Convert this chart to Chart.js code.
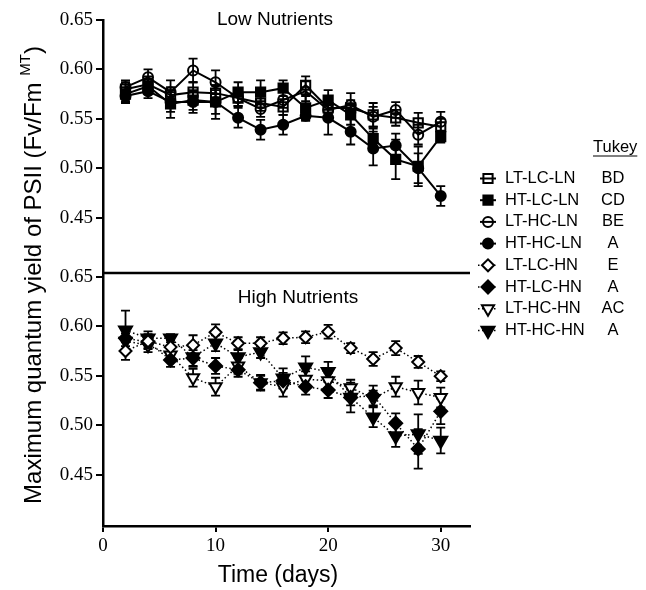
<!DOCTYPE html>
<html>
<head>
<meta charset="utf-8">
<script src="https://cdn.jsdelivr.net/npm/chart.js@4.4.1/dist/chart.umd.min.js"></script>
<style>
html,body{margin:0;padding:0;background:#fff;}
#wrap{position:relative;width:646px;height:590px;}
</style>
</head>
<body>
<div id="wrap"><canvas id="c" width="646" height="590"></canvas></div>
<script>
// ---------- data ----------
const days = [2,4,6,8,10,12,14,16,18,20,22,24,26,28,30];
const xTickValues = [0,10,20,30];
const yTickValues = [0.45,0.50,0.55,0.60,0.65];
const panelTitles = ['Low Nutrients','High Nutrients'];
const xTitle = 'Time (days)';
const yTitleMain = 'Maximum quantum yield of PSII (Fv/Fm ';
const yTitleSup = 'MT';
const yTitleEnd = ')';
const legendHeader = 'Tukey';
const seriesNames = ['LT-LC-LN','HT-LC-LN','LT-HC-LN','HT-HC-LN','LT-LC-HN','HT-LC-HN','LT-HC-HN','HT-HC-HN'];
const tukeyLetters = ['BD','CD','BE','A','E','A','AC','A'];

// Low nutrients
const LT_LC_LN = [0.580,0.585,0.574,0.577,0.576,0.571,0.566,0.562,0.584,0.561,0.561,0.554,0.551,0.546,0.542];
const HT_LC_LN = [0.575,0.583,0.565,0.569,0.567,0.577,0.577,0.581,0.561,0.569,0.554,0.530,0.509,0.502,0.532];
const LT_HC_LN = [0.582,0.592,0.577,0.599,0.587,0.571,0.560,0.569,0.578,0.559,0.564,0.552,0.559,0.534,0.547];
const HT_HC_LN = [0.573,0.578,0.567,0.567,0.567,0.551,0.539,0.544,0.553,0.551,0.537,0.520,0.523,0.500,0.472];
// High nutrients
const LT_LC_HN = [0.575,0.585,0.579,0.581,0.594,0.583,0.583,0.588,0.589,0.5945,0.578,0.567,0.578,0.564,0.5495];
const HT_LC_HN = [0.588,0.584,0.566,0.568,0.560,0.556,0.543,0.545,0.539,0.5355,0.528,0.530,0.502,0.476,0.514];
const LT_HC_HN = [0.585,0.581,0.571,0.548,0.539,0.560,0.543,0.539,0.5465,0.545,0.538,0.527,0.539,0.533,0.528];
const HT_HC_HN = [0.596,0.588,0.588,0.569,0.583,0.569,0.574,0.5475,0.5586,0.554,0.528,0.508,0.489,0.491,0.4845];

// error (SE) values
const LT_LC_LN_err = [0.007,0.008,0.008,0.010,0.008,0.008,0.008,0.008,0.009,0.008,0.008,0.012,0.008,0.010,0.008];
const HT_LC_LN_err = [0.007,0.008,0.014,0.010,0.012,0.010,0.012,0.008,0.012,0.010,0.010,0.010,0.020,0.020,0.006];
const LT_HC_LN_err = [0.007,0.008,0.012,0.012,0.012,0.008,0.008,0.008,0.010,0.008,0.012,0.010,0.008,0.010,0.010];
const HT_HC_LN_err = [0.007,0.007,0.010,0.011,0.017,0.010,0.010,0.010,0.005,0.017,0.013,0.017,0.012,0.015,0.010];
const LT_LC_HN_err = [0.009,0.007,0.007,0.010,0.008,0.006,0.006,0.006,0.006,0.007,0.005,0.007,0.007,0.006,0.005];
const HT_LC_HN_err = [0.008,0.007,0.007,0.008,0.008,0.007,0.007,0.008,0.008,0.008,0.008,0.010,0.010,0.020,0.013];
const LT_HC_HN_err = [0.008,0.007,0.007,0.009,0.009,0.008,0.008,0.010,0.008,0.008,0.008,0.008,0.010,0.012,0.010];
const HT_HC_HN_err = [0.020,0.007,0.004,0.010,0.008,0.007,0.006,0.010,0.011,0.010,0.015,0.010,0.011,0.020,0.013];

// ---------- build ----------
const SANS = "'Liberation Sans', Arial, sans-serif";
const SERIF = "'Liberation Serif', 'Times New Roman', serif";

function pts(vals){ return days.map((d,i)=>({x:d,y:vals[i]})); }

const styles = [
  {axis:'yTop', style:'rect', r:6.5, fill:'rgba(0,0,0,0)', rot:0, low:true},
  {axis:'yTop', style:'rect', r:6.5, fill:'#000', rot:0, low:true},
  {axis:'yTop', style:'circle', r:5, fill:'rgba(0,0,0,0)', rot:0, low:true},
  {axis:'yTop', style:'circle', r:5, fill:'#000', rot:0, low:true},
  {axis:'yBot', style:'rectRot', r:6, fill:'#fff', rot:0, low:false},
  {axis:'yBot', style:'rectRot', r:6.5, fill:'#000', rot:0, low:false},
  {axis:'yBot', style:'triangle', r:7, fill:'#fff', rot:180, low:false},
  {axis:'yBot', style:'triangle', r:7.5, fill:'#000', rot:180, low:false}
];
const values = [LT_LC_LN,HT_LC_LN,LT_HC_LN,HT_HC_LN,LT_LC_HN,HT_LC_HN,LT_HC_HN,HT_HC_HN];
const errors = [LT_LC_LN_err,HT_LC_LN_err,LT_HC_LN_err,HT_HC_LN_err,LT_LC_HN_err,HT_LC_HN_err,LT_HC_HN_err,HT_HC_HN_err];

const datasets = values.map((v,i)=>{
  const s = styles[i];
  return {
    label: seriesNames[i],
    data: pts(v),
    errors: errors[i],
    yAxisID: s.axis,
    borderColor:'#000',
    borderWidth: s.low ? 2 : 1.5,
    borderDash: s.low ? [] : [1.5,2.5],
    pointStyle: s.style,
    pointRadius: s.r,
    pointRotation: s.rot,
    pointBackgroundColor: s.fill,
    pointBorderColor:'#000',
    pointBorderWidth: 2,
    fill:false,
    tension:0
  };
});

const errorBarPlugin = {
  id:'errorBars',
  beforeDatasetsDraw(chart){
    const ctx = chart.ctx;
    ctx.save();
    ctx.strokeStyle = '#000';
    ctx.lineWidth = 1.8;
    chart.data.datasets.forEach((ds,i)=>{
      const meta = chart.getDatasetMeta(i);
      const ys = chart.scales[ds.yAxisID];
      meta.data.forEach((p,j)=>{
        const v = ds.data[j].y, e = ds.errors[j];
        const yh = ys.getPixelForValue(v+e), yl = ys.getPixelForValue(v-e);
        const x = p.x, cw = 4.5;
        ctx.beginPath();
        ctx.moveTo(x,yh); ctx.lineTo(x,yl);
        ctx.moveTo(x-cw,yh); ctx.lineTo(x+cw,yh);
        ctx.moveTo(x-cw,yl); ctx.lineTo(x+cw,yl);
        ctx.stroke();
      });
    });
    ctx.restore();
  }
};

function drawMarker(ctx, s, x, y){
  if (Chart.helpers && Chart.helpers.drawPoint){
    ctx.fillStyle = s.fill;
    ctx.strokeStyle = '#000';
    ctx.lineWidth = 2;
    Chart.helpers.drawPoint(ctx, {pointStyle:s.style, rotation:s.rot, radius:s.r, borderWidth:2}, x, y);
  }
}

const decorPlugin = {
  id:'decor',
  afterDraw(chart){
    const ctx = chart.ctx;
    const area = chart.chartArea;
    const yTop = chart.scales.yTop;
    ctx.save();
    // divider = x-axis line of top panel
    ctx.strokeStyle = '#000';
    ctx.lineWidth = 2.5;
    ctx.beginPath();
    ctx.moveTo(area.left - 1, yTop.bottom);
    ctx.lineTo(area.right, yTop.bottom);
    ctx.stroke();

    // panel titles
    ctx.fillStyle = '#000';
    ctx.font = '19px ' + SANS;
    ctx.textAlign = 'center';
    ctx.textBaseline = 'middle';
    ctx.fillText(panelTitles[0], 275, 20);
    ctx.fillText(panelTitles[1], 298, 298);

    // x title
    ctx.font = '23px ' + SANS;
    ctx.fillText(xTitle, 278, 576);

    // y title (rotated) with superscript
    ctx.save();
    ctx.translate(32, 275);
    ctx.rotate(-Math.PI/2);
    const mainFont = '24px ' + SANS, supFont = '15px ' + SANS;
    ctx.font = mainFont; const w1 = ctx.measureText(yTitleMain).width;
    const w3 = ctx.measureText(yTitleEnd).width;
    ctx.font = supFont; const w2 = ctx.measureText(yTitleSup).width;
    let x0 = -(w1+w2+w3)/2;
    ctx.textAlign = 'left';
    ctx.textBaseline = 'alphabetic';
    ctx.font = mainFont; ctx.fillText(yTitleMain, x0, 9);
    ctx.font = supFont; ctx.fillText(yTitleSup, x0+w1, -2);
    ctx.font = mainFont; ctx.fillText(yTitleEnd, x0+w1+w2, 9);
    ctx.restore();

    // legend
    const mx = 488, tx = 505, lx = 613;
    const rowY0 = 178.5, gap = 21.7;
    ctx.font = '16.5px ' + SANS;
    ctx.textBaseline = 'middle';
    ctx.textAlign = 'left';
    ctx.fillText(legendHeader, 593, 147);
    const hw = ctx.measureText(legendHeader).width;
    ctx.lineWidth = 1.2;
    ctx.beginPath(); ctx.moveTo(593, 156); ctx.lineTo(593+hw, 156); ctx.stroke();
    chart.data.datasets.forEach((ds,i)=>{
      const s = styles[i];
      const y = rowY0 + i*gap;
      ctx.save();
      ctx.strokeStyle = '#000';
      if (s.low){
        ctx.lineWidth = 2; ctx.setLineDash([]);
        ctx.beginPath(); ctx.moveTo(mx-8,y); ctx.lineTo(mx+8,y); ctx.stroke();
      } else {
        ctx.lineWidth = 1.5; ctx.setLineDash([1.5,2.5]);
        ctx.beginPath(); ctx.moveTo(mx-10,y); ctx.lineTo(mx+8,y); ctx.stroke();
      }
      ctx.setLineDash([]);
      drawMarker(ctx, s, mx, y);
      ctx.restore();
      ctx.fillStyle = '#000';
      ctx.font = '16.5px ' + SANS;
      ctx.textAlign = 'left';
      ctx.fillText(ds.label, tx, y);
      ctx.textAlign = 'center';
      ctx.fillText(tukeyLetters[i], lx, y);
    });
    ctx.restore();
  }
};

const yAxisCommon = {
  type:'linear',
  position:'left',
  stack:'panels',
  stackWeight:1,
  afterBuildTicks: s => { s.ticks = yTickValues.map(v=>({value:v})); },
  afterFit: s => { s.width = 103; },
  grid:{drawOnChartArea:false, color:'#000', lineWidth:2, tickLength:7},
  border:{display:true, color:'#000', width:2.5},
  ticks:{color:'#000', font:{family:SERIF, size:19}, padding:3, callback: v => Number(v).toFixed(2)}
};

new Chart(document.getElementById('c').getContext('2d'), {
  type:'line',
  data:{datasets},
  options:{
    responsive:false,
    animation:false,
    events:[],
    layout:{padding:{left:0,right:176,top:20,bottom:0}},
    plugins:{legend:{display:false}, tooltip:{enabled:false}},
    scales:{
      x:{
        type:'linear', position:'bottom', min:0, max:32.6,
        afterBuildTicks: s => { s.ticks = xTickValues.map(v=>({value:v})); },
        afterFit: s => { s.height = 64; },
        grid:{drawOnChartArea:false, color:'#000', lineWidth:2, tickLength:6},
        border:{display:true, color:'#000', width:2.5},
        ticks:{color:'#000', font:{family:SERIF, size:19}, padding:3, maxRotation:0}
      },
      yBot: Object.assign({}, yAxisCommon, {min:0.398, max:0.654}),
      yTop: Object.assign({}, yAxisCommon, {min:0.394, max:0.65})
    }
  },
  plugins:[errorBarPlugin, decorPlugin]
});
</script>
</body>
</html>
